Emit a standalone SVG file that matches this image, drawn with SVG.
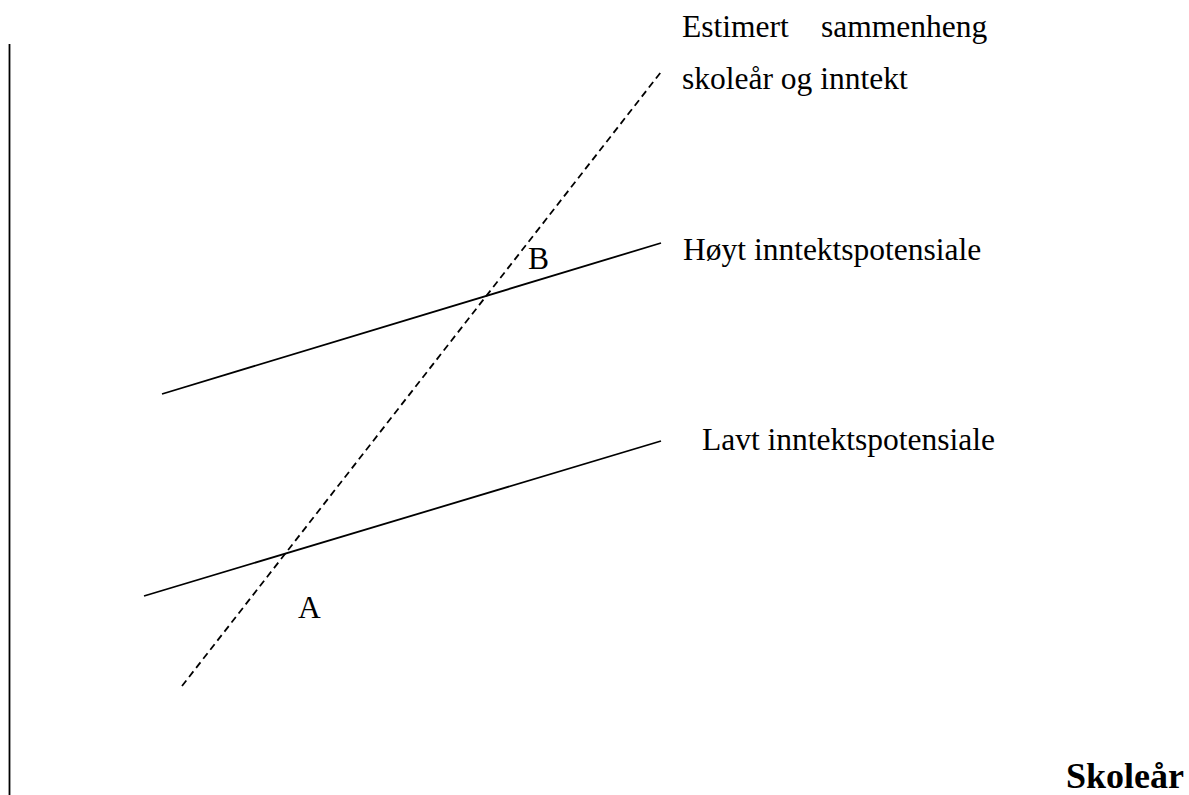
<svg xmlns="http://www.w3.org/2000/svg" width="1189" height="795" viewBox="0 0 1189 795">
<style>
text{font-family:"Liberation Serif","Times New Roman",serif;font-size:31.5px;fill:#000}
.ln{stroke:#000;stroke-width:1.8;fill:none}
.dash{stroke-dasharray:7,4.5}
.bold{font-weight:bold;font-size:36px}
</style>
<rect width="1189" height="795" fill="#fff"/>
<g id="connectors">
<line class="ln" x1="9.5" y1="44" x2="9.5" y2="795" stroke-width="2"/>
<line class="ln dash" x1="182" y1="686" x2="661" y2="72"/>
<line class="ln" x1="162" y1="394" x2="661" y2="243"/>
<line class="ln" x1="144" y1="596" x2="661" y2="441"/>
</g>
<g id="label-estimert"><text x="682" y="37">Estimert<tspan x="821">sammenheng</tspan></text><text x="682" y="89">skoleår og inntekt</text></g>
<g id="label-hoyt"><text x="683" y="260">Høyt inntektspotensiale</text></g>
<g id="label-lavt"><text x="702" y="450">Lavt inntektspotensiale</text></g>
<g id="label-B"><text x="528" y="269">B</text></g>
<g id="label-A"><text x="298" y="618">A</text></g>
<g id="label-skolear"><text class="bold" x="1066" y="788">Skoleår</text></g>
</svg>
